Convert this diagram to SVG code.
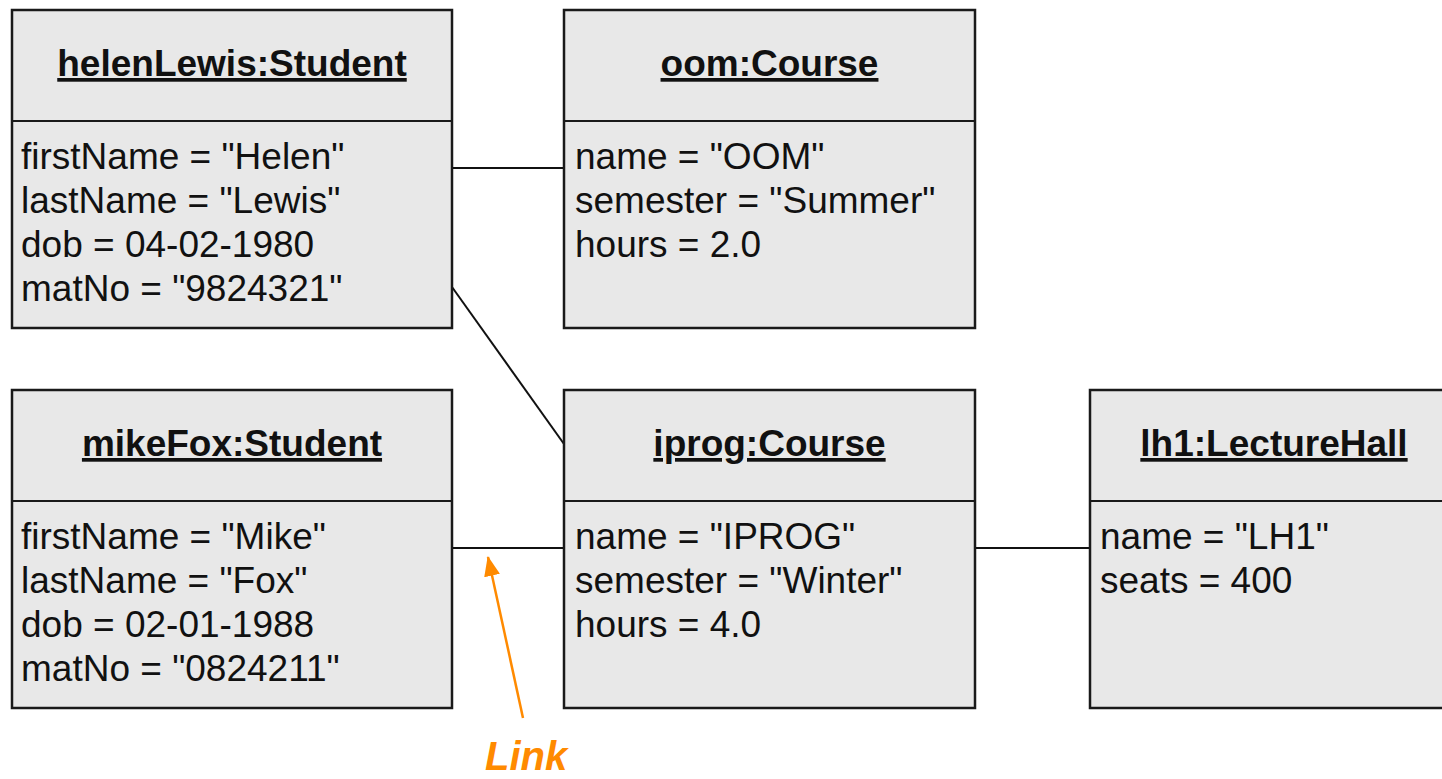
<svg xmlns="http://www.w3.org/2000/svg" width="1442" height="779" viewBox="0 0 1442 779">
<style>
.box{fill:#e8e8e8;stroke:#1a1a1a;stroke-width:2.5}
.div{stroke:#1a1a1a;stroke-width:2}
.title{font-family:"Liberation Sans",Arial,sans-serif;font-weight:bold;font-size:37px;text-anchor:middle;fill:#111;text-decoration:underline}
.attr{font-family:"Liberation Sans",Arial,sans-serif;font-size:37px;fill:#111}
.link{stroke:#111;stroke-width:2;fill:none}
.note{font-family:"Liberation Sans",Arial,sans-serif;font-weight:bold;font-style:italic;font-size:40px;fill:#ff8a00}
</style>
<defs>
<marker id="arr" viewBox="0 0 20 16" refX="19" refY="8" markerWidth="20" markerHeight="16" orient="auto" markerUnits="userSpaceOnUse">
<path d="M0,0 L20,8 L0,16 z" fill="#ff8a00"/>
</marker>
</defs>
<rect width="1442" height="779" fill="#fff"/>
<g id="connectors">
<line class="link" x1="452" y1="168" x2="564" y2="168"/>
<line class="link" x1="452" y1="287" x2="564" y2="444"/>
<line class="link" x1="452" y1="548" x2="564" y2="548"/>
<line class="link" x1="975" y1="548" x2="1090" y2="548"/>
</g>
<g id="helenLewis">
<rect class="box" x="12" y="10" width="440" height="318"/>
<line class="div" x1="12" y1="121" x2="452" y2="121"/>
<text class="title" x="232" y="76">helenLewis:Student</text>
<text class="attr" x="21" y="169">firstName = "Helen"</text>
<text class="attr" x="21" y="213">lastName = "Lewis"</text>
<text class="attr" x="21" y="257">dob = 04-02-1980</text>
<text class="attr" x="21" y="301">matNo = "9824321"</text>
</g>
<g id="oom">
<rect class="box" x="564" y="10" width="411" height="318"/>
<line class="div" x1="564" y1="121" x2="975" y2="121"/>
<text class="title" x="769.5" y="76">oom:Course</text>
<text class="attr" x="575" y="169">name = "OOM"</text>
<text class="attr" x="575" y="213">semester = "Summer"</text>
<text class="attr" x="575" y="257">hours = 2.0</text>
</g>
<g id="mikeFox">
<rect class="box" x="12" y="390" width="440" height="318"/>
<line class="div" x1="12" y1="501" x2="452" y2="501"/>
<text class="title" x="232" y="456">mikeFox:Student</text>
<text class="attr" x="21" y="549">firstName = "Mike"</text>
<text class="attr" x="21" y="593">lastName = "Fox"</text>
<text class="attr" x="21" y="637">dob = 02-01-1988</text>
<text class="attr" x="21" y="681">matNo = "0824211"</text>
</g>
<g id="iprog">
<rect class="box" x="564" y="390" width="411" height="318"/>
<line class="div" x1="564" y1="501" x2="975" y2="501"/>
<text class="title" x="769.5" y="456">iprog:Course</text>
<text class="attr" x="575" y="549">name = "IPROG"</text>
<text class="attr" x="575" y="593">semester = "Winter"</text>
<text class="attr" x="575" y="637">hours = 4.0</text>
</g>
<g id="lh1">
<rect class="box" x="1090" y="390" width="370" height="318"/>
<line class="div" x1="1090" y1="501" x2="1460" y2="501"/>
<text class="title" x="1274" y="456">lh1:LectureHall</text>
<text class="attr" x="1100" y="549">name = "LH1"</text>
<text class="attr" x="1100" y="593">seats = 400</text>
</g>
<g id="linkNote">
<line x1="523" y1="718" x2="488" y2="557" stroke="#ff8a00" stroke-width="2.5" marker-end="url(#arr)"/>
<text class="note" x="485" y="770">Link</text>
</g>
</svg>
